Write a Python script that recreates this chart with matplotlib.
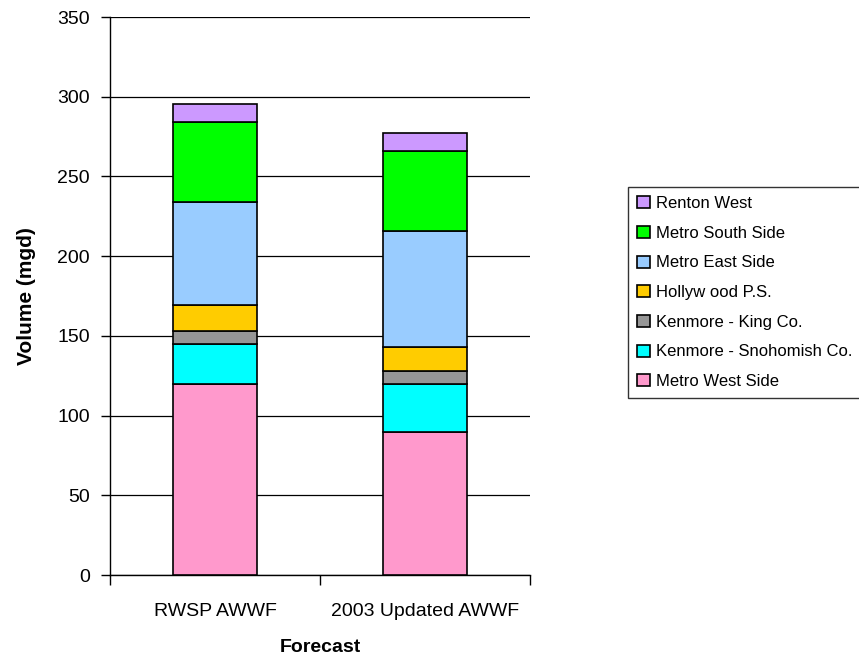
import numpy as np
import matplotlib
matplotlib.use("Agg")
import matplotlib.pyplot as plt

plt.rcParams['font.family'] = ['Liberation Sans', 'DejaVu Sans']

# Forecast volumes (mgd) per service area, bottom to top of each stack
forecasts = ["RWSP AWWF", "2003 Updated AWWF"]
areas = [
    "Metro West Side",
    "Kenmore - Snohomish Co.",
    "Kenmore - King Co.",
    "Hollyw ood P.S.",
    "Metro East Side",
    "Metro South Side",
    "Renton West",
]
metro_west = [120, 90]
kenmore_snohomish = [25, 30]
kenmore_king = [8, 8]
hollywood = [16.5, 15]
metro_east = [64.5, 73]
metro_south = [50, 50]
renton_west = [11.5, 11.5]

series = [metro_west, kenmore_snohomish, kenmore_king, hollywood,
          metro_east, metro_south, renton_west]
colors = ["#FF99CC", "#00FFFF", "#969696", "#FFCC00",
          "#99CCFF", "#00FF00", "#CC99FF"]

fig = plt.figure(figsize=(8.59, 6.64), dpi=100)
ax = fig.add_axes([110 / 859, 1 - 575 / 664, 420 / 859, 558 / 664])

x = np.arange(len(forecasts))
bottom = np.zeros(len(forecasts))
handles = []
for vals, col, name in zip(series, colors, areas):
    b = ax.bar(x, vals, width=0.4, bottom=bottom, color=col,
               edgecolor="black", linewidth=1.2, label=name, zorder=3)
    handles.append(b)
    bottom += np.array(vals)

ax.set_xlim(-0.5, 1.5)
ax.set_ylim(0, 350)
ax.set_yticks(np.arange(0, 351, 50))
ax.yaxis.grid(True, color="black", linewidth=0.9, zorder=0)
ax.set_axisbelow(True)

# category labels centred under bars, tick marks on the boundaries
ax.set_xticks(x)
ax.set_xticklabels(forecasts, fontsize=14)
ax.tick_params(axis="x", which="major", length=0, pad=20)
ax.set_xticks([-0.5, 0.5, 1.5], minor=True)
ax.tick_params(axis="x", which="minor", length=7, width=1, direction="out")
ax.tick_params(axis="y", labelsize=14, length=6.5, width=1, pad=8)

for s in ["top", "right"]:
    ax.spines[s].set_visible(False)
for s in ["left", "bottom"]:
    ax.spines[s].set_color("black")
    ax.spines[s].set_linewidth(1)

ax.set_xlabel("Forecast", fontsize=14, fontweight="bold", labelpad=14)
ax.set_ylabel("Volume (mgd)", fontsize=15, fontweight="bold", labelpad=15)

leg = fig.legend(handles[::-1], areas[::-1], loc="upper left",
                 bbox_to_anchor=(628 / 859, 1 - 187 / 664),
                 bbox_transform=fig.transFigure, fontsize=12,
                 frameon=True, fancybox=False, edgecolor="black",
                 handlelength=0.75, handleheight=0.75, handletextpad=0.4,
                 labelspacing=0.88, borderpad=0.55, borderaxespad=0)
leg.get_frame().set_linewidth(1)

fig.savefig("out.png", dpi=100)
